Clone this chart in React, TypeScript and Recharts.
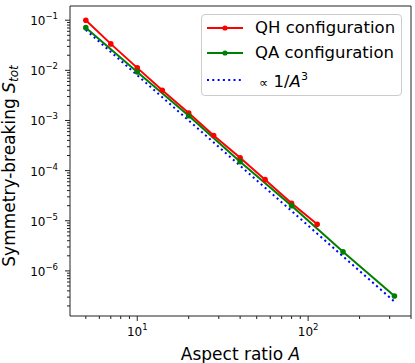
import * as React from "react"
import { LineChart, Line, XAxis, YAxis, Label, Legend, ReferenceArea } from "recharts"

// QH configuration: aspect ratio A and symmetry-breaking S_tot
const qhAspect = [5, 7, 10, 14, 20, 28, 40, 56, 80, 113]
const qhStot = [0.1, 0.0337, 0.0112, 0.004, 0.00141, 5.0e-4, 1.8e-4, 6.6e-5, 2.23e-5, 8.5e-6]

// QA configuration
const qaAspect = [5, 10, 20, 40, 80, 160, 320]
const qaStot = [0.071, 0.0093, 0.00124, 1.51e-4, 2.0e-5, 2.4e-6, 3.15e-7]

// reference slope ∝ 1/A^3
const refAspect = [5, 10, 20, 40, 80, 160, 320]
const refStot = [0.064, 0.008, 0.001, 1.25e-4, 1.56e-5, 1.95e-6, 2.44e-7]

const xDomain = [4.04, 400]
const yDomain = [1.26e-7, 0.192]
const xMajor = [10, 100]
const yMajor = [1e-6, 1e-5, 1e-4, 1e-3, 1e-2, 1e-1]
const minorSteps = [2, 3, 4, 5, 6, 7, 8, 9]

const FONT = "DejaVu Sans, sans-serif"
const AXIS = "#222"

const zip = (a: number[], s: number[]) => a.map((v, i) => ({ a: v, s: s[i] }))
const qhData = zip(qhAspect, qhStot)
const qaData = zip(qaAspect, qaStot)
const refData = zip(refAspect, refStot)

const withMinor = (major: number[], dom: number[]) => {
  const out: number[] = []
  const decades = [major[0] / 10, ...major]
  decades.forEach((d) => {
    out.push(d)
    minorSteps.forEach((m) => out.push(d * m))
  })
  return out.filter((v) => v >= dom[0] && v <= dom[1]).sort((p, q) => p - q)
}
const xTicks = withMinor(xMajor, xDomain)
const yTicks = withMinor(yMajor, yDomain)

const exponent = (v: number) => {
  const e = Math.log10(v)
  return Math.abs(e - Math.round(e)) < 1e-6 ? Math.round(e) : null
}
const sup = (e: number) => (e < 0 ? "\u2212" + Math.abs(e) : String(e))

const XTick = (props: any) => {
  const { x, y, payload } = props
  const e = exponent(payload.value)
  return (
    <g>
      <line x1={x} x2={x} y1={y} y2={y + (e !== null ? 5 : 3)} stroke={AXIS} strokeWidth={1} />
      {e !== null && (
        <text x={x} y={y + 20} textAnchor="middle" fontFamily={FONT} fontSize={12} fill="#000">
          10
          <tspan dy={-6} fontSize={8.5}>
            {sup(e)}
          </tspan>
        </text>
      )}
    </g>
  )
}

const YTick = (props: any) => {
  const { x, y, payload } = props
  const e = exponent(payload.value)
  return (
    <g>
      <line x1={x} x2={x - (e !== null ? 5 : 3)} y1={y} y2={y} stroke={AXIS} strokeWidth={1} />
      {e !== null && (
        <text x={x - 12} y={y + 5} textAnchor="end" fontFamily={FONT} fontSize={12} fill="#000">
          10
          <tspan dy={-6} fontSize={8.5}>
            {sup(e)}
          </tspan>
        </text>
      )}
    </g>
  )
}

const XTitle = (props: any) => {
  const vb = props.viewBox
  return (
    <text x={vb.x + vb.width / 2} y={vb.y + 44} textAnchor="middle" fontFamily={FONT} fontSize={17} fill="#000">
      Aspect ratio <tspan fontStyle="italic">A</tspan>
    </text>
  )
}

const YTitle = (props: any) => {
  const vb = props.viewBox
  const cx = vb.x + 15
  const cy = vb.y + vb.height / 2 + 5
  return (
    <text
      x={cx}
      y={cy}
      transform={`rotate(-90, ${cx}, ${cy})`}
      textAnchor="middle"
      fontFamily={FONT}
      fontSize={17}
      fill="#000"
    >
      Symmetry-breaking <tspan fontStyle="italic">S</tspan>
      <tspan fontStyle="italic" fontSize={12} dy={3}>
        tot
      </tspan>
    </text>
  )
}

const legendItems = [
  { key: "qh", color: "#ff0000", dash: undefined, marker: true, h: 25, label: <span>QH configuration</span> },
  { key: "qa", color: "#008000", dash: undefined, marker: true, h: 25, label: <span>QA configuration</span> },
  {
    key: "ref",
    color: "#0000ff",
    dash: "2 3.3",
    marker: false,
    h: 30,
    label: (
      <span style={{ marginLeft: 4 }}>
        <span style={{ fontSize: 13 }}>∝</span> 1/<i>A</i>
        <sup style={{ fontSize: 11 }}>3</sup>
      </span>
    ),
  },
]

const LegendBox = () => (
  <div
    style={{
      boxSizing: "border-box",
      width: 201,
      height: 82,
      border: "1px solid #cccccc",
      borderRadius: 4,
      background: "rgba(255,255,255,0.8)",
      fontFamily: FONT,
      fontSize: 16.5,
      color: "#000",
    }}
  >
    {legendItems.map((item) => (
      <div key={item.key} style={{ display: "flex", alignItems: "center", height: item.h, whiteSpace: "nowrap" }}>
        <svg width={36} height={10} style={{ marginLeft: 5, marginRight: 12, flex: "none" }}>
          <line x1={0} y1={5} x2={36} y2={5} stroke={item.color} strokeWidth={2} strokeDasharray={item.dash} />
          {item.marker && <circle cx={18} cy={5} r={2.6} fill={item.color} />}
        </svg>
        {item.label}
      </div>
    ))}
  </div>
)

export default function App() {
  return (
    <div style={{ position: "absolute", left: 0, top: 0, background: "#fff" }}>
      <LineChart width={415} height={363} margin={{ top: 6, right: 4, left: 0, bottom: 0 }} style={{ fontFamily: FONT }}>
        <XAxis
          dataKey="a"
          type="number"
          scale="log"
          domain={xDomain}
          allowDataOverflow
          ticks={xTicks}
          interval={0}
          tickSize={0}
          tickMargin={0}
          axisLine={false}
          tickLine={false}
          tick={<XTick />}
          height={47}
        >
          <Label content={<XTitle />} />
        </XAxis>
        <YAxis
          type="number"
          scale="log"
          domain={yDomain}
          allowDataOverflow
          ticks={yTicks}
          interval={0}
          tickSize={0}
          tickMargin={0}
          axisLine={false}
          tickLine={false}
          tick={<YTick />}
          width={70}
        >
          <Label content={<YTitle />} />
        </YAxis>
        <ReferenceArea
          x1={xDomain[0]}
          x2={xDomain[1]}
          y1={yDomain[0]}
          y2={yDomain[1]}
          fill="none"
          stroke={AXIS}
          strokeWidth={1}
          ifOverflow="visible"
        />
        <Line
          data={qhData}
          dataKey="s"
          name="QH configuration"
          type="linear"
          stroke="#ff0000"
          strokeWidth={2}
          dot={{ r: 2.8, fill: "#ff0000", stroke: "none" }}
          activeDot={false}
          isAnimationActive={false}
        />
        <Line
          data={qaData}
          dataKey="s"
          name="QA configuration"
          type="linear"
          stroke="#008000"
          strokeWidth={2}
          dot={{ r: 2.8, fill: "#008000", stroke: "none" }}
          activeDot={false}
          isAnimationActive={false}
        />
        <Line
          data={refData}
          dataKey="s"
          name="∝ 1/A^3"
          type="linear"
          stroke="#0000ff"
          strokeWidth={2}
          strokeDasharray="2 3.3"
          dot={false}
          activeDot={false}
          isAnimationActive={false}
        />
        <Legend
          layout="vertical"
          align="center"
          verticalAlign="middle"
          wrapperStyle={{ top: 14, left: 201, width: 201, height: 82 }}
          content={() => <LegendBox />}
        />
      </LineChart>
    </div>
  )
}
